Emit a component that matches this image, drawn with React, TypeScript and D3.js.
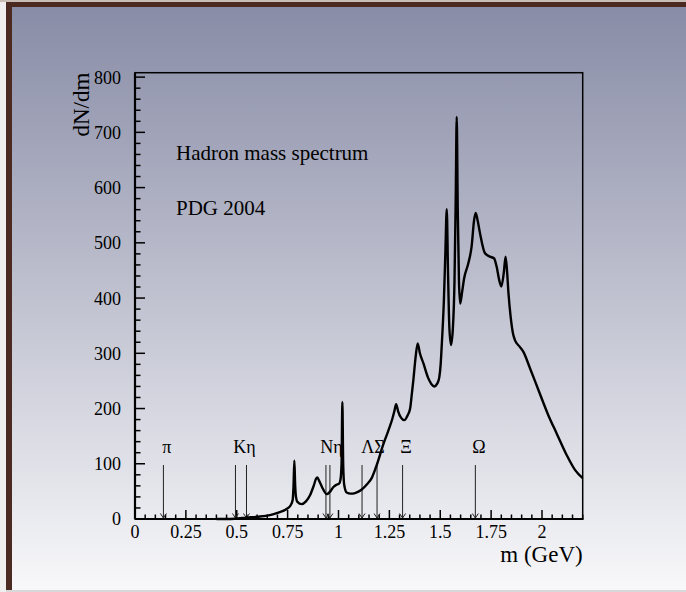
import React, { useEffect, useRef } from 'react';
import * as d3 from 'd3';

// hadron mass spectrum
const mass = [
  0.40, 0.45, 0.49, 0.55, 0.60, 0.663, 0.70, 0.745, 0.765, 0.775, 0.779, 0.783, 0.787, 0.791, 0.798,
  0.819, 0.84, 0.86, 0.878, 0.89, 0.896, 0.905, 0.92, 0.942, 0.96, 0.975, 0.99, 1.003, 1.010, 1.015,
  1.019, 1.023, 1.028, 1.04, 1.06, 1.081, 1.10, 1.122, 1.14, 1.163, 1.19, 1.22, 1.245, 1.265, 1.275,
  1.283, 1.293, 1.308, 1.323, 1.34, 1.352, 1.36, 1.368, 1.378, 1.389, 1.40, 1.417, 1.441, 1.457, 1.471,
  1.485, 1.495, 1.502, 1.507, 1.518, 1.525, 1.532, 1.538, 1.545, 1.553, 1.562, 1.570, 1.576, 1.581, 1.586,
  1.592, 1.598, 1.607, 1.617, 1.638, 1.654, 1.666, 1.674, 1.684, 1.695, 1.720, 1.744, 1.764, 1.777, 1.790,
  1.800, 1.812, 1.821, 1.828, 1.835, 1.846, 1.858, 1.867, 1.89, 1.908, 1.941, 1.982, 2.031, 2.072, 2.121,
  2.162, 2.2
];
const dNdm = [
  0, 0, 0.5, 2.5, 4, 7, 11, 18, 25, 35, 60, 106, 62, 40, 31,
  27, 32, 43, 60, 73, 75, 69, 57, 45, 50, 58, 62, 64, 72, 100,
  212, 100, 62, 48, 46, 47, 50, 56, 63, 74, 100, 135, 160, 182, 196,
  208, 195, 183, 179, 188, 200, 225, 252, 290, 318, 300, 282, 255, 244, 240,
  245, 256, 280, 312, 397, 480, 561, 450, 345, 315, 345, 430, 580, 728, 560,
  430, 390, 410, 435, 463, 493, 540, 554, 540, 518, 481, 475, 472, 457, 432,
  421, 445, 475, 450, 410, 366, 335, 324, 312, 303, 273, 234, 188, 155, 116,
  89, 74
];

// ground state masses marked with arrows
const arrowMasses = [0.1396, 0.4937, 0.5479, 0.9383, 0.9578, 1.1157, 1.1894, 1.3149, 1.6725];
const groupLabels = ['π', 'Kη', 'Nη', 'ΛΣ', 'Ξ', 'Ω'];
const groupMembers = [[0], [1, 2], [3, 4], [5, 6], [7], [8]];

const xTickLabels = ['0', '0.25', '0.5', '0.75', '1', '1.25', '1.5', '1.75', '2'];
const yTickValues = [0, 100, 200, 300, 400, 500, 600, 700, 800];

const FONT = 'Liberation Serif, Times New Roman, Times, DejaVu Serif, serif';

export default function App() {
  const node = useRef<SVGSVGElement>(null);

  useEffect(() => {
    const svg = d3.select(node.current);
    svg.selectAll('*').remove();
    svg.attr('font-family', FONT);

    const W = 686, H = 592;
    const left = 135, right = 582.7, top = 72.7, bottom = 519;

    const x = d3.scaleLinear().domain([0, 2.2]).range([left, right]);
    const y = d3.scaleLinear().domain([0, 808]).range([bottom, top]);

    // canvas background + frame
    const defs = svg.append('defs');
    const grad = defs.append('linearGradient')
      .attr('id', 'bg').attr('x1', 0).attr('y1', 0).attr('x2', 0).attr('y2', 1);
    grad.append('stop').attr('offset', '0%').attr('stop-color', 'rgb(136,140,166)');
    grad.append('stop').attr('offset', '100%').attr('stop-color', 'rgb(248,248,250)');

    svg.append('rect').attr('width', W).attr('height', H).attr('fill', '#efefef');
    svg.append('rect').attr('x', 0).attr('y', 0).attr('width', W).attr('height', 2).attr('fill', '#c9beb6');
    svg.append('rect').attr('x', 12).attr('y', 7).attr('width', W - 12).attr('height', 583).attr('fill', 'url(#bg)');
    svg.append('rect').attr('x', 6).attr('y', 2).attr('width', W - 6).attr('height', 5).attr('fill', '#4a2a21');
    svg.append('rect').attr('x', 6).attr('y', 2).attr('width', 6).attr('height', 588).attr('fill', '#4a2a21');
    svg.append('rect').attr('x', 6).attr('y', 590).attr('width', W - 6).attr('height', 2).attr('fill', '#d8d8da');

    // ticks
    const g = svg.append('g');
    const xMinor = d3.range(0, 45).map(i => i * 0.05);
    g.selectAll('.xt').data(xMinor).enter().append('line')
      .attr('x1', d => x(d)).attr('x2', d => x(d))
      .attr('y1', bottom).attr('y2', (d, i) => bottom - (i % 5 === 0 ? 9 : 4.5))
      .attr('stroke', '#000').attr('stroke-width', 1.5);

    const yMinor = d3.range(0, 41).map(i => i * 20);
    g.selectAll('.yt').data(yMinor).enter().append('line')
      .attr('y1', d => y(d)).attr('y2', d => y(d))
      .attr('x1', left).attr('x2', (d, i) => left + (i % 5 === 0 ? 10 : 5.5))
      .attr('stroke', '#000').attr('stroke-width', 1.5);

    // frame
    g.append('rect').attr('x', left).attr('y', top).attr('width', right - left).attr('height', bottom - top)
      .attr('fill', 'none').attr('stroke', '#000').attr('stroke-width', 1.5);
    g.append('line').attr('x1', left).attr('x2', right + 0.7).attr('y1', bottom).attr('y2', bottom)
      .attr('stroke', '#000').attr('stroke-width', 2.2);
    g.append('line').attr('x1', left).attr('x2', left).attr('y1', top).attr('y2', bottom)
      .attr('stroke', '#000').attr('stroke-width', 2.2);

    // tick labels
    g.selectAll('.xl').data(xTickLabels).enter().append('text')
      .attr('x', d => x(+d)).attr('y', 538)
      .attr('text-anchor', 'middle')
      .attr('font-size', 18)
      .text(d => d);

    g.selectAll('.yl').data(yTickValues).enter().append('text')
      .attr('x', 121).attr('y', d => y(d)).attr('dy', '0.36em')
      .attr('text-anchor', 'end')
      .attr('font-size', 18)
      .text(d => d);

    // axis titles
    svg.append('text')
      .attr('transform', `translate(89,${top}) rotate(-90)`)
      .attr('text-anchor', 'end')
      .attr('font-size', 23)
      .text('dN/dm');
    svg.append('text')
      .attr('x', right).attr('y', 562)
      .attr('text-anchor', 'end')
      .attr('font-size', 23)
      .text('m (GeV)');

    // legend text
    svg.append('text').attr('x', 176).attr('y', 160)
      .attr('font-size', 21)
      .text('Hadron mass spectrum');
    svg.append('text').attr('x', 176).attr('y', 215)
      .attr('font-size', 21)
      .text('PDG 2004');

    // arrows
    const arrows = svg.append('g').attr('stroke', '#222').attr('stroke-width', 1).attr('fill', 'none');
    arrowMasses.forEach(m => {
      const px = x(m);
      arrows.append('line').attr('x1', px).attr('x2', px).attr('y1', 465).attr('y2', bottom - 1);
      arrows.append('path').attr('d', `M${px - 3},${bottom - 5.5}L${px},${bottom - 1}L${px + 3},${bottom - 5.5}`);
    });

    svg.selectAll('.pl').data(groupLabels).enter().append('text')
      .attr('x', (d, i) => x(d3.mean(groupMembers[i], j => arrowMasses[j]) as number) + 3.5)
      .attr('y', 453)
      .attr('text-anchor', 'middle')
      .attr('font-size', 18)
      .text(d => d);

    // spectrum
    const line = d3.line<number>()
      .x((d, i) => x(mass[i]))
      .y(d => y(d))
      .curve(d3.curveMonotoneX);

    svg.append('path')
      .attr('d', line(dNdm))
      .attr('fill', 'none')
      .attr('stroke', '#000')
      .attr('stroke-width', 2.4)
      .attr('stroke-linejoin', 'round');
  }, []);

  return (
    <div>
      <style>{'body{margin:0;overflow:hidden}'}</style>
      <svg ref={node} width={686} height={592} style={{ display: 'block' }} />
    </div>
  );
}
